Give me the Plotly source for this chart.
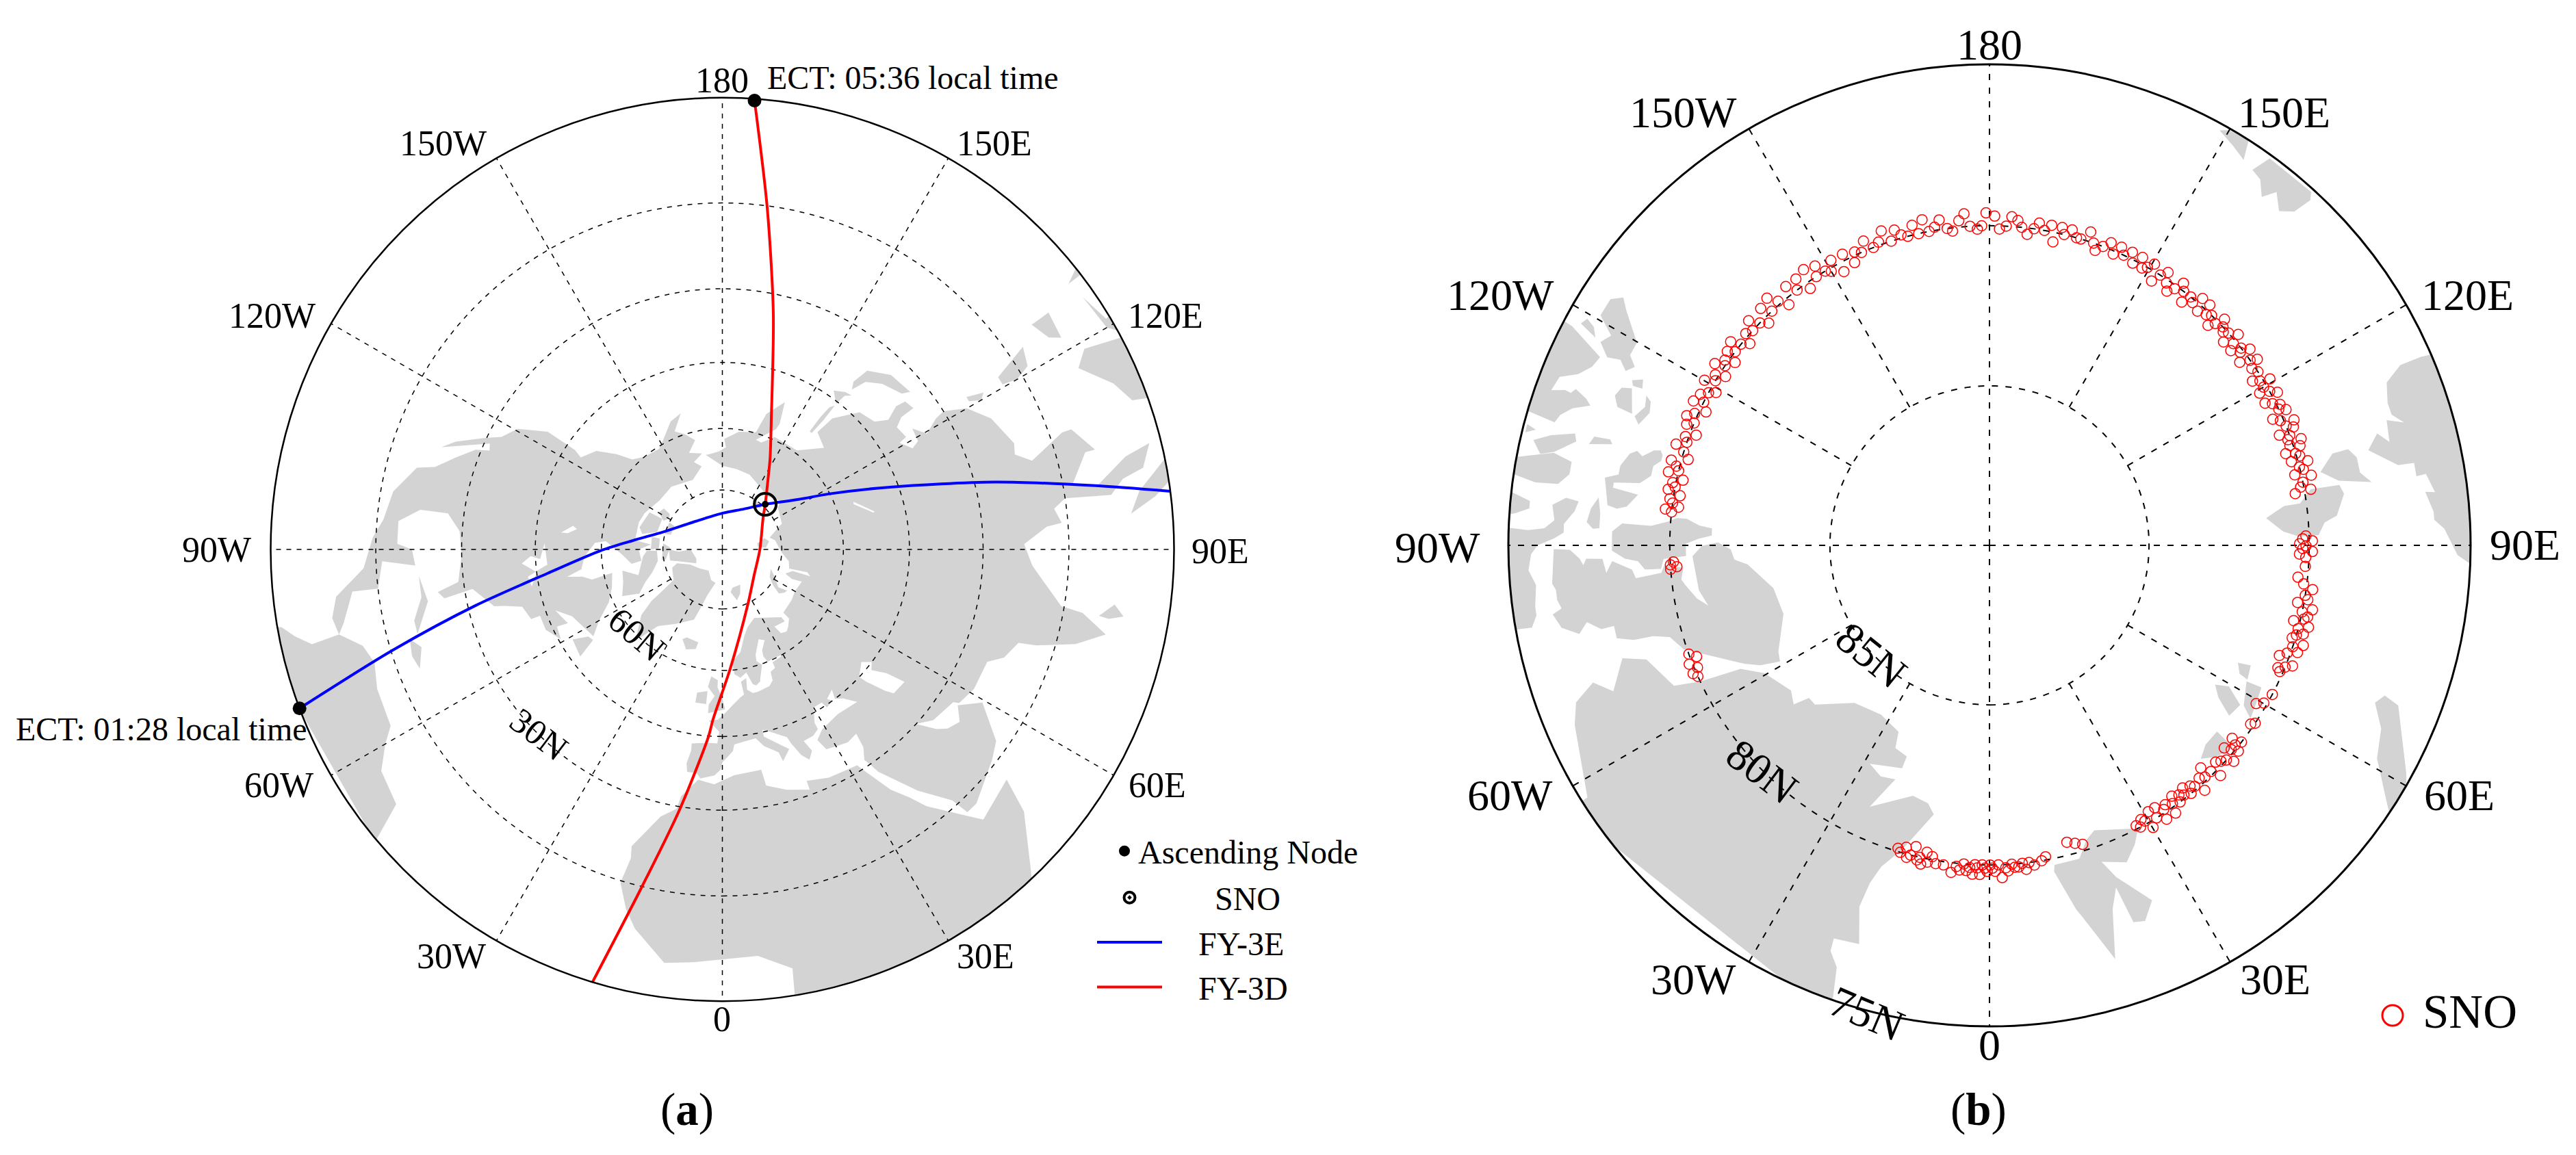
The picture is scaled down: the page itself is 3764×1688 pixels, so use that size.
"""Polar maps of the FY-3E / FY-3D ground tracks and their SNO points."""

import numpy as np
import plotly.graph_objects as go

WIDTH = 3764
HEIGHT = 1688
SERIF = "Liberation Serif"
LAND = "#d3d3d3"

# --- panel (a): tracks, lon/lat in degrees
FY3D_LON = [175.9, 172.5, 167.8, 159.5, 152.4, 147.1, 136.5, 127.7, 90.0, 51.5, 25.1, 3.8, -3.1, -4.3, -9.4, -13.5, -16.7]
FY3D_LAT = [0.2, 15.4, 33.8, 55.6, 64.3, 68.9, 74.3, 77.0, 80.5, 79.7, 74.8, 60.4, 48.8, 44.7, 29.2, 14.6, 0.0]
FY3E_LON = [-69.4, -73.0, -77.2, -82.2, -89.7, -95.7, -106.9, -133.3, 179.5, 151.9, 136.5, 123.2, 117.4, 110.4, 103.9, 99.8, 97.4]
FY3E_LAT = [0.0, 15.3, 31.5, 47.3, 60.2, 67.5, 74.6, 79.9, 80.8, 78.4, 74.3, 67.1, 60.0, 46.8, 26.3, 10.5, 0.0]
NODE_LON = [175.9, -69.4]
NODE_LAT = [0.2, 0.0]
SNO_LON_A = [136.5]
SNO_LAT_A = [74.3]

EURASIA = [(-9, 37), (-9.5, 38.7), (-8.8, 41.5), (-9, 43), (-4, 43.5), (-1.5, 43.5), (-1, 46), (-4.5, 48.4),
           (-1.5, 48.7), (1.5, 50.5), (4, 52), (7, 53.5), (8.5, 54), (8, 57), (10.5, 57.7), (10, 55), (12, 54),
           (14, 54), (19, 54.5), (21, 55.5), (21.5, 57.5), (24, 58), (24, 59.4), (28, 59.7), (30, 60), (25, 60.2),
           (22, 60), (21, 61.5), (21.5, 63), (25, 65), (22, 65.8), (17.5, 62.5), (17, 61), (19, 59.8), (16.5, 57),
           (16, 56.2), (14, 55.5), (12.7, 56), (11, 59), (8, 58), (5.5, 59), (5, 62), (10, 64), (14, 67.5),
           (18, 69.5), (25, 71), (31, 70), (41, 67.5), (41, 66.2), (34, 66.7), (35, 64.5), (38, 64), (40.5, 64.7),
           (44, 66), (44, 68), (54, 68.5), (60, 69), (68, 68.5), (67, 71), (69, 73), (73, 71.5), (73, 67), (75, 68),
           (74, 72.5), (80, 73), (87, 75), (100, 76.5), (104, 77.7), (113, 74), (113, 73.7), (127, 72.5), (130, 71),
           (140, 72.5), (150, 71.5), (160, 70), (170, 69.5), (180, 69), (190, 66), (188, 66), (182, 65.5), (178, 64.5),
           (179, 62.5), (172, 60.5), (164, 59.8), (163, 57.5), (162, 55), (157, 51), (155.5, 56), (156, 57.5),
           (163, 61.5), (160, 61.7), (155, 59.3), (143, 59.3), (135, 54.7), (141, 53), (140, 48.5), (135, 43.5),
           (130, 42.5), (128, 40), (129.5, 37), (129, 35), (126.5, 34.5), (126.5, 37.5), (125, 39.5), (121.5, 39),
           (121, 40.8), (118, 39), (119, 37.3), (122.5, 37), (119.5, 35), (121.5, 32), (122, 30), (120, 26), (116, 23),
           (110, 21), (108, 21.5), (106, 19), (109, 13), (109, 11.5), (105, 9), (105, 10.5), (100.5, 13.5), (99.5, 10),
           (103, 5), (104, 1.5), (101, 3), (100, 6), (98, 8), (98.5, 15), (97, 17), (94.5, 16), (94, 18.5), (91, 22.5),
           (87, 21), (80.5, 15.5), (80, 12), (77.5, 8), (75, 12), (73, 18), (72.5, 21), (69, 22.5), (67, 25), (61, 25),
           (57, 26), (56.5, 27), (51, 28), (48, 30), (50, 26.5), (51.5, 25), (54, 24), (56.5, 26), (59.5, 22.5),
           (55, 17), (52, 15.7), (45, 13), (43, 13), (42.5, 16), (39, 21), (35, 28), (34.5, 30), (34, 31.3),
           (35.5, 33.5), (36, 36.5), (33, 36), (30.5, 36.5), (27.5, 37), (26.5, 39.5), (29, 41), (35, 42), (41.5, 41.5),
           (39, 44), (37, 45), (38, 47), (35, 46), (36, 45), (33.5, 44.5), (33, 46), (30, 46), (28, 43), (28, 41.5),
           (26, 40.7), (23, 40.5), (24, 38), (22.5, 36.5), (21, 38), (19.5, 41), (19, 42.5), (14, 45), (12.5, 45.5),
           (12.5, 44), (16, 41.8), (18.5, 40), (16, 38), (15.5, 40), (12, 42), (10, 44), (7, 43.7), (3.5, 43.2),
           (3, 41.8), (0, 39.5), (-0.5, 38), (-2, 36.8), (-5.5, 36), (-6.5, 37)]
AFRICA = [(-17, 14.7), (-16.5, 19), (-17, 21), (-13, 27.5), (-10, 29.5), (-9.5, 32), (-6, 35.7), (-2, 35), (3, 36.8),
          (10, 37.3), (10.5, 34), (15, 32.3), (20, 31), (20, 32.8), (25, 31.7), (32, 31.2), (32.5, 30), (35, 24),
          (37, 21), (38.5, 18), (43, 12), (44, 10.5), (51, 12), (49, 7), (44, 1), (41, -3), (9, -3), (9.5, 3.5),
          (5, 5.8), (-4, 5), (-8, 4.5), (-13, 8.5), (-15, 11)]
N_AMERICA = [(-77.5, 8), (-80, 7.5), (-83, 8.5), (-87, 13), (-92, 14.5), (-95, 16), (-100, 17), (-105, 20), (-106, 23),
             (-109, 26), (-112, 29), (-113, 31.5), (-114.5, 31), (-110, 23), (-112, 25), (-115, 29.5), (-117, 32.5),
             (-120.5, 34.5), (-124, 40), (-124, 47), (-123, 49), (-128, 51), (-132, 55), (-135, 58.5), (-140, 60),
             (-148, 60.5), (-152, 59), (-158, 56), (-163, 55), (-158, 58.5), (-162, 60), (-166, 62), (-161, 64.5),
             (-168, 65.5), (-162, 67), (-166, 68.5), (-157, 71), (-141, 69.7), (-128, 70), (-115, 68.5), (-108, 68),
             (-96, 68), (-94, 72), (-90, 69), (-82, 69.5), (-81, 67), (-87, 65), (-94, 61), (-93, 58.5), (-87, 56),
             (-82, 55), (-80, 51.5), (-79, 55), (-77, 57), (-78, 62), (-71, 61), (-65, 59), (-60, 55), (-56, 52),
             (-66, 50), (-70, 47), (-64.5, 48.5), (-65, 46), (-61, 45.5), (-65.5, 43.5), (-70, 43.5), (-70, 41.5),
             (-74, 40.5), (-75.5, 37), (-76, 35), (-81, 31.5), (-80, 26), (-81.5, 25), (-83, 29), (-89, 30), (-94, 29.5),
             (-97.5, 27), (-97.5, 22), (-95, 18.5), (-91, 18.5), (-90, 21), (-87, 21.5), (-88, 16), (-83.5, 15),
             (-83.5, 11), (-79, 9)]
S_AMERICA = [(-77.5, 8), (-77, 4), (-78.5, 2), (-80, 0.5), (-80.5, -3), (-40, -3), (-50, 0), (-52, 5), (-57, 6),
             (-60, 8.5), (-62, 10.5), (-68, 11), (-72, 12), (-75, 11)]
GREENLAND = [(-45, 60), (-51, 64), (-54, 68), (-55, 71), (-58, 75.5), (-70, 76.5), (-73, 78), (-65, 81), (-50, 82.5),
             (-33, 83.6), (-20, 81.7), (-11.5, 81.4), (-18, 78), (-20, 75), (-22, 71), (-32, 68), (-40, 65), (-43, 60)]
BAFFIN = [(-80, 73.5), (-72, 71.5), (-67, 69), (-62, 66.5), (-65, 62.5), (-72, 64), (-78, 64.5), (-73, 68), (-85, 70),
          (-89, 71), (-89, 73.5)]
VICTORIA = [(-117, 69.5), (-105, 68.5), (-101, 69.5), (-105, 73), (-117, 73)]
BANKS = [(-125, 72), (-120, 71.5), (-116, 73.5), (-120, 74.5), (-124, 74)]
ELLESMERE = [(-90, 76.5), (-78, 76.5), (-75, 78.5), (-62, 82.5), (-70, 83), (-90, 82), (-87, 79)]
DEVON = [(-96, 75), (-80, 74.5), (-80, 75.5), (-92, 76.8)]
MELVILLE = [(-117, 75), (-105, 75), (-106, 76.5), (-116, 76.5)]
SOMERSET = [(-100, 72), (-90, 72), (-91, 74), (-100, 74)]
NEWFOUNDLAND = [(-59, 47.7), (-53, 47), (-55, 51.5), (-57, 51)]
ICELAND = [(-24, 65.5), (-20, 63.5), (-15, 64.3), (-14.5, 66), (-22, 66.3)]
BRITAIN = [(-5, 50), (1, 51), (0, 53.5), (-2, 56), (-2, 57.7), (-5, 58.5), (-6, 56), (-3, 54), (-5, 52)]
IRELAND = [(-10, 52), (-6, 52), (-6, 55), (-10, 54.3)]
SVALBARD_A = [(11, 79), (16, 76.6), (22, 78), (27, 80), (15, 80)]
NOVAYA_A = [(52, 72), (55, 71), (57.5, 70.7), (56, 73), (62, 75), (68, 76.8), (60, 76.2), (55, 74.5)]
SEVERNAYA_A = [(92, 79), (100, 78), (105, 79), (100, 81), (95, 81)]
NEWSIB_A = [(137, 75.5), (145, 75), (150, 75), (145, 76), (138, 76)]
SAKHALIN = [(142, 46), (143, 47), (143.5, 50), (143.5, 54), (142.5, 54), (142, 50), (142, 47)]
HONSHU = [(130, 33), (136, 33.5), (141, 36), (142, 39.5), (141, 41), (139.5, 38), (136, 36), (131, 34.5)]
HOKKAIDO = [(140, 42), (142, 42.3), (145, 43.5), (142, 45.5), (141.5, 43)]
TAIWAN = [(120, 23), (121, 22), (122, 25), (121, 25)]
LUZON = [(120, 16), (121, 13.5), (124, 12.5), (122, 18.5), (120.5, 18.5)]
MINDANAO = [(122, 7), (126, 6.5), (126, 9.5), (123, 8.5)]
BORNEO = [(109, -3), (110, 2), (113, 3.5), (117, 7), (119, 5), (118, 0), (117, -3)]
SUMATRA = [(95, 5.5), (98, 4), (104, -3), (101, -3), (97, 2)]
SULAWESI = [(120, 1), (125, 1.5), (121, 0.5), (122, -3), (120, -3), (119, 0)]
HALMAHERA = [(127.5, 2), (128.5, 0), (127.5, -1)]
SRI_LANKA = [(80, 9.5), (82, 7.5), (80.5, 6), (79.8, 8)]
CUBA = [(-85, 22), (-80, 23), (-74.5, 20), (-77, 20), (-81, 22)]
HISPANIOLA = [(-74, 18.5), (-72, 20), (-68.5, 18.5), (-71, 18)]
LAND_A = [EURASIA, AFRICA, N_AMERICA, S_AMERICA, GREENLAND, BAFFIN, VICTORIA, BANKS, ELLESMERE, DEVON, MELVILLE,
          SOMERSET, NEWFOUNDLAND, ICELAND, BRITAIN, IRELAND, SVALBARD_A, NOVAYA_A, SEVERNAYA_A, NEWSIB_A, SAKHALIN,
          HONSHU, HOKKAIDO, TAIWAN, LUZON, MINDANAO, BORNEO, SUMATRA, SULAWESI, HALMAHERA, SRI_LANKA, CUBA, HISPANIOLA]

CASPIAN = [(47, 45), (51, 46.8), (53, 45), (51, 44), (53, 41), (54, 37), (50, 37.3), (49, 39), (47.5, 43)]
GREAT_LAKES = [(-92, 47), (-85, 47.5), (-84, 46), (-82, 43), (-79, 43.5), (-83, 45), (-86, 42), (-88, 44), (-87, 46)]
WINNIPEG = [(-99, 53), (-96, 50.5), (-96, 52), (-98, 54)]
BAIKAL = [(104, 51.7), (110, 55.7), (109, 55.8), (103.7, 52)]
WATER_A = [CASPIAN, GREAT_LAKES, WINNIPEG, BAIKAL]

# --- panel (b): land, lat > 75
GREENLAND_B = [(-57.9, 75.2), (-66.6, 75.9), (-69.2, 76.2), (-70.9, 76.9), (-68.8, 77.4), (-72.9, 78.0), (-71.6, 78.7),
               (-66.0, 79.2), (-64.8, 80.0), (-63.6, 81.3), (-60.4, 81.9), (-53.8, 82.3), (-50.9, 82.1), (-49.8, 82.6),
               (-47.6, 82.6), (-40.6, 83.5), (-32.6, 83.7), (-26.0, 83.5), (-24.9, 83.0), (-21.4, 82.9), (-21.4, 82.5),
               (-28.7, 82.2), (-25.2, 82.0), (-21.9, 82.1), (-23.5, 81.5), (-24.6, 81.0), (-17.0, 81.8), (-13.4, 81.7),
               (-11.7, 81.4), (-16.0, 80.1), (-18.6, 79.4), (-19.5, 78.8), (-19.8, 78.0), (-18.1, 76.9), (-21.6, 76.8),
               (-21.4, 76.4), (-19.9, 76.0), (-19.1, 75.1), (-19.0, 74.5), (-57.9, 74.5)]
ISLAND_B1 = [(-123, 75.9), (-124.1, 76.2), (-122.9, 76.5), (-119.9, 77.3), (-117.9, 77.3), (-116.7, 77.6), (-115.6, 77.4),
             (-116.7, 77.1), (-116.2, 76.7), (-117.6, 76.3), (-119, 76.5), (-120.6, 75.9)]
ISLAND_B2 = [(-119.4, 75.6), (-118.9, 75.9), (-117.8, 76.1), (-118.5, 75.5)]
ISLAND_B3 = [(-117.7, 75.3), (-115.8, 76.5), (-114.2, 76.4), (-112.6, 76.1), (-111.4, 75.6), (-109.5, 75.5), (-110.1, 75.9),
             (-110, 76.1), (-110.7, 76.2), (-110, 76.6), (-109.3, 76.8), (-108.2, 76.3), (-106.9, 76), (-105.8, 75.9),
             (-106.2, 75.1), (-106.2, 74.5), (-118, 74.5)]
ISLAND_B4 = [(-103.7, 75.1), (-104.7, 75.1), (-104.3, 75.4)]
ISLAND_B5 = [(-103, 75.4), (-104.1, 75.9), (-105.1, 76.6), (-104.1, 76.7), (-102.1, 76.1), (-101.5, 75.7)]
ISLAND_B6 = [(-100.6, 75), (-102, 76.1), (-101.3, 76.7), (-99.6, 76.7), (-98.1, 76.4), (-97.9, 75.7), (-98.5, 75)]
ISLAND_B7 = [(-105.4, 77.2), (-105.6, 77.7), (-105, 77.8), (-104.2, 77.1)]
ISLAND_B8 = [(-114.8, 77.7), (-115.6, 78), (-114.3, 78.1), (-114.1, 77.8)]
ISLAND_B9 = [(-113.2, 77.5), (-113.7, 77.8), (-110.2, 78.1), (-110.4, 77.6), (-111.8, 77.4)]
ISLAND_B10 = [(-113.6, 78.3), (-113, 78.5), (-111.3, 78.6), (-109, 78.4), (-110, 78.2), (-111.9, 78.4)]
ISLAND_B11 = [(-104.3, 78.4), (-105, 78.6), (-104.4, 78.8), (-105.8, 79.1), (-106.1, 79.3), (-105.4, 79.4), (-104.4, 79.4),
              (-103.3, 79.2), (-101.6, 79.2), (-100.1, 78.9), (-99.5, 78.1), (-98.7, 78.1), (-98.2, 78.9), (-96.1, 78.6),
              (-95.6, 78.3), (-96, 78), (-100, 77.8), (-100.8, 78.2), (-102.2, 78.2)]
ISLAND_B12 = [(-96.4, 75), (-95.5, 75.6), (-94.6, 75.6), (-93.9, 75.2), (-93.7, 75), (-94, 74.5), (-96, 74.5)]
ISLAND_B13 = [(-92.1, 75), (-91.9, 75.6), (-92.2, 76.1), (-93.3, 76.4), (-95.3, 76.3), (-96.4, 76.7), (-96.1, 77.1),
              (-94.7, 77), (-92.9, 76.7), (-91.7, 76.7), (-90.9, 76.4), (-90, 75.9), (-88.9, 75.7), (-86.9, 75.6),
              (-85, 75.8), (-82.3, 75.7), (-81.2, 75.7), (-79.8, 75.5), (-79.9, 75.1), (-80, 74.5), (-92, 74.5)]
ISLAND_B14 = [(-97, 77.7), (-94.7, 77.8), (-92.5, 77.8), (-92.4, 77.6), (-93.3, 77.4), (-95.3, 77.5)]
ISLAND_B15 = [(-92.1, 78.2), (-93.4, 78.5), (-93.3, 79.4), (-94.2, 79.9), (-95, 80.2), (-95, 80.5), (-93.9, 80.9),
              (-93.5, 81.3), (-92, 81.3), (-91.3, 80.9), (-90.3, 80.5), (-88, 80.5), (-87.6, 79.8), (-85.9, 79.7),
              (-86, 79.2), (-87.4, 79), (-87.9, 78.6), (-89.2, 78.2)]
ISLAND_B16 = [(-89.5, 76.4), (-89.4, 76.9), (-88.1, 77.2), (-87.2, 77.3), (-88.1, 77.4), (-88, 77.9), (-85.9, 78),
              (-87.6, 78.2), (-86.1, 78.8), (-84.7, 78.9), (-85.2, 79.7), (-86.4, 79.8), (-85.8, 80.4), (-83.7, 80.3),
              (-82.6, 80.4), (-79.7, 80.7), (-77.9, 81), (-81.2, 80.8), (-87.9, 80.7), (-89.9, 81), (-90.6, 81.5),
              (-89.1, 81.9), (-86.8, 82), (-85.5, 82.4), (-78.8, 83.1), (-71.6, 83.2), (-63.3, 82.6), (-61, 82.5),
              (-62.4, 81.9), (-64.1, 81.5), (-68.9, 80.5), (-71.2, 79.9), (-74, 79.6), (-74.9, 79.1), (-75.1, 78.5),
              (-76, 78), (-77.9, 78), (-77.8, 77.6), (-79.2, 77.2), (-77.8, 76.9), (-79.1, 76.4), (-81, 76.2),
              (-81.6, 76.5), (-82.8, 76.4), (-84.1, 76.4), (-85, 76.3)]
NEWSIB_B1 = [(151, 75.2), (150, 75.05), (147.4, 75), (146.6, 75.6), (148.7, 75.4)]
NEWSIB_B2 = [(145, 75.7), (144.1, 75.1), (137.7, 75.1), (137.1, 75.3), (137.6, 75.9), (139.1, 76.2), (140.9, 75.8),
             (142, 76.2), (143.5, 75.8)]
TAYMYR_B = [(113.6, 75.3), (113.7, 76), (112.3, 76.6), (109.7, 76.8), (108, 76.8), (106.5, 76.5), (107.5, 77), (104.5, 77.1),
            (106.1, 77.4), (104.1, 77.8), (101.1, 77), (101, 76.5), (99.2, 76.5), (99.3, 76.2), (96.8, 76), (97, 76.3),
            (94.3, 76.1), (93.3, 76.1), (92.1, 75.8), (88.8, 75.4), (87.8, 75), (88, 74.5), (113, 74.5)]
SEVERNAYA_B1 = [(102.5, 79.4), (105, 78.9), (105, 78.4), (103.5, 78.2), (101.1, 78.2), (99.4, 77.9), (100.5, 78.9)]
SEVERNAYA_B2 = [(95.6, 81.3), (97.6, 80.7), (97.7, 80.2), (99.9, 79.8), (99.8, 78.9), (98.3, 78.8), (94.9, 79.1),
                (93.9, 79.5), (91.8, 79.7), (91.6, 80.3), (92.7, 80.8)]
FRANZ_B1 = [(64.7, 81.4), (65.3, 81), (62.5, 80.9), (62.8, 81.2)]
FRANZ_B2 = [(58.3, 81.7), (59.5, 81.3), (57.5, 80.7), (54.6, 80.8), (56.4, 81.4)]
FRANZ_B3 = [(62.1, 80.9), (62.4, 80.4), (59.3, 80.3), (56.4, 80.2), (57.8, 80.6)]
FRANZ_B4 = [(50.7, 80.8), (50.3, 80.1), (47, 80.3), (44.7, 80.6), (47.3, 80.8)]
NOVAYA_B = [(69.2, 76.8), (68.6, 76.3), (61.4, 75.2), (60.1, 75), (56.2, 75), (57.7, 75.4), (61.2, 76.2), (64.9, 76.5), (67.8, 77)]
SVALBARD_B = [(20.2, 80.5), (27.7, 80), (25.9, 79.6), (23.4, 79.2), (19.5, 79.5), (20.9, 78.9), (24.6, 77.8), (22.5, 77.3),
              (20.9, 77.4), (20.3, 78.6), (18.7, 78), (16.9, 76.5), (14.1, 78), (13.4, 78.3), (11.2, 79.6), (11.5, 79.8),
              (16, 79.8), (18.2, 80.3)]
LAND_B = [GREENLAND_B, ISLAND_B1, ISLAND_B2, ISLAND_B3, ISLAND_B4, ISLAND_B5, ISLAND_B6, ISLAND_B7, ISLAND_B8, ISLAND_B9,
          ISLAND_B10, ISLAND_B11, ISLAND_B12, ISLAND_B13, ISLAND_B14, ISLAND_B15, ISLAND_B16, NEWSIB_B1, NEWSIB_B2,
          TAYMYR_B, SEVERNAYA_B1, SEVERNAYA_B2, FRANZ_B1, FRANZ_B2, FRANZ_B3, FRANZ_B4, NOVAYA_B, SVALBARD_B]

SNO_POINTS = [(-16.8, 80.1), (-16.2, 80.0), (-15.4, 80.2), (-14.9, 79.9), (-14.3, 80.0), (-13.7, 80.3), (-13.0, 79.9),
              (-12.6, 80.0), (-12.2, 79.8), (-11.5, 80.2), (-11.1, 79.9), (-10.4, 80.1), (-9.6, 79.9), (-8.2, 79.9),
              (-6.7, 79.7), (-5.9, 79.9), (-5.3, 79.8), (-4.6, 80.0), (-4.1, 79.8), (-3.5, 79.9), (-3.0, 79.7), (-2.6, 80.0),
              (-2.2, 79.9), (-1.7, 79.7), (-1.3, 80.0), (-0.8, 79.9), (-0.4, 79.8), (0.1, 80.0), (0.5, 79.9), (1.0, 79.8),
              (1.6, 80.0), (2.2, 79.6), (2.9, 79.9), (3.3, 79.8), (4.0, 80.0), (4.5, 79.9), (5.2, 79.9), (5.9, 80.0),
              (6.5, 79.8), (7.1, 80.0), (8.0, 79.9), (9.4, 80.0), (10.2, 80.1), (14.6, 80.4), (16.0, 80.3), (17.3, 80.2),
              (27.6, 80.1), (28.2, 80.0), (28.9, 80.2), (29.4, 80.1), (30.1, 79.8), (30.8, 80.3), (31.5, 80.0), (32.2, 80.3),
              (32.9, 79.8), (33.4, 80.1), (34.1, 80.2), (34.8, 79.8), (35.3, 80.1), (36.0, 80.3), (36.6, 80.0), (37.2, 80.2),
              (37.9, 80.1), (38.5, 80.3), (39.1, 80.0), (39.8, 80.2), (40.4, 80.1), (41.3, 79.8), (42.0, 80.2), (42.9, 80.1),
              (43.5, 80.4), (44.4, 80.1), (45.1, 79.8), (46.2, 80.2), (47.0, 80.1), (47.8, 80.0), (48.5, 79.8), (49.2, 80.3),
              (49.8, 80.1), (50.4, 79.9), (50.9, 80.1), (51.5, 80.3), (52.0, 80.0), (55.6, 80.1), (56.2, 80.0), (59.3, 80.3),
              (60.1, 80.1), (62.2, 80.0), (66.5, 80.1), (67.0, 80.2), (67.6, 80.0), (68.3, 79.8), (69.2, 80.3), (70.1, 80.1),
              (70.8, 79.8), (71.5, 80.0), (72.3, 79.7), (73.0, 80.1), (73.7, 80.0), (74.2, 79.8), (74.9, 80.0), (75.6, 79.7),
              (76.1, 80.2), (76.8, 79.9), (77.3, 79.8), (78.0, 80.0), (78.7, 79.7), (79.5, 80.2), (80.3, 79.9), (81.0, 80.0),
              (82.2, 79.8), (83.0, 80.1), (84.1, 80.3), (86.2, 80.1), (87.8, 80.1), (88.4, 80.3), (88.9, 79.9), (89.4, 80.2),
              (89.9, 80.1), (90.3, 80.3), (90.8, 79.9), (91.2, 80.2), (91.7, 80.1), (99.6, 80.3), (99.9, 79.8), (100.6, 80.1),
              (101.4, 80.0), (102.3, 79.7), (103.0, 80.2), (103.6, 79.9), (104.2, 80.0), (104.9, 79.7), (105.5, 80.2),
              (106.1, 79.9), (106.7, 80.0), (107.2, 80.3), (107.8, 79.8), (108.4, 80.1), (108.9, 79.7), (109.5, 80.1),
              (110.1, 80.0), (110.8, 80.3), (111.3, 79.8), (111.9, 80.0), (112.4, 79.7), (113.2, 80.1), (114.0, 80.3),
              (114.6, 79.8), (115.2, 80.0), (115.9, 79.9), (116.6, 80.1), (117.3, 80.3), (118.0, 79.8), (118.8, 80.0),
              (119.4, 80.3), (120.0, 80.1), (120.7, 79.8), (121.3, 80.1), (122.0, 80.3), (122.9, 80.0), (124.0, 80.1),
              (124.8, 79.8), (125.4, 80.0), (126.2, 80.3), (127.0, 79.8), (127.6, 80.1), (128.1, 80.0), (128.9, 80.3),
              (129.6, 80.1), (130.3, 79.8), (131.0, 80.3), (131.6, 80.0), (132.4, 80.1), (133.1, 80.0), (133.9, 79.8),
              (134.5, 80.1), (135.2, 80.3), (136.0, 80.0), (136.8, 80.1), (137.5, 79.8), (138.4, 80.2), (139.2, 79.8),
              (140.1, 80.1), (141.0, 80.0), (141.7, 80.3), (142.6, 80.0), (143.5, 79.8), (144.2, 80.1), (145.1, 80.3),
              (146.0, 80.1), (146.8, 79.8), (147.7, 80.0), (148.5, 80.3), (149.6, 79.8), (150.4, 80.0), (151.2, 80.1),
              (152.0, 79.8), (153.1, 80.1), (154.0, 79.8), (155.2, 80.0), (156.1, 79.8), (157.0, 80.1), (158.1, 79.8),
              (159.2, 80.0), (160.3, 80.2), (161.0, 80.0), (162.1, 79.7), (163.4, 80.0), (164.2, 80.0), (165.3, 79.8),
              (166.5, 80.0), (167.1, 79.8), (168.2, 80.3), (169.0, 79.8), (170.1, 80.0), (171.2, 79.8), (172.0, 80.0),
              (173.1, 80.2), (174.2, 80.0), (175.0, 79.8), (176.1, 79.7), (177.0, 80.0), (178.2, 80.1), (179.1, 79.7),
              (-179.4, 79.6), (-178.6, 80.0), (-177.8, 80.1), (-176.5, 80.0), (-175.6, 79.6), (-174.6, 79.8), (-173.3, 80.1),
              (-172.4, 80.0), (-171.2, 79.7), (-170.2, 79.9), (-169.1, 80.0), (-168.3, 79.6), (-167.2, 80.0), (-166.4, 79.7),
              (-165.2, 80.0), (-164.1, 79.9), (-163.2, 79.7), (-162.1, 80.0), (-161.0, 79.6), (-159.9, 79.9), (-158.7, 80.0),
              (-157.5, 79.7), (-156.4, 80.0), (-155.3, 79.9), (-154.5, 80.2), (-153.2, 79.8), (-152.0, 80.3), (-150.9, 79.8),
              (-150.0, 80.1), (-149.1, 80.0), (-148.0, 79.7), (-147.2, 80.0), (-146.0, 79.6), (-145.1, 80.2), (-144.0, 79.7),
              (-143.0, 80.0), (-141.8, 79.7), (-140.2, 80.2), (-139.1, 79.9), (-138.0, 79.6), (-137.1, 80.0), (-136.0, 79.7),
              (-135.2, 80.2), (-134.1, 80.0), (-133.0, 79.7), (-132.2, 80.0), (-131.0, 79.9), (-130.1, 80.2), (-129.0, 80.0),
              (-128.2, 79.7), (-127.3, 80.0), (-126.5, 79.8), (-125.7, 80.2), (-125.0, 79.9), (-124.2, 80.0), (-123.5, 79.7),
              (-122.6, 80.2), (-121.9, 79.9), (-121.0, 80.0), (-120.1, 79.7), (-119.2, 80.2), (-118.5, 80.0), (-117.6, 79.8),
              (-116.6, 80.0), (-116.0, 79.7), (-115.2, 80.2), (-114.1, 79.9), (-113.2, 79.7), (-112.5, 80.0), (-111.8, 79.8),
              (-110.6, 80.2), (-109.7, 79.9), (-108.8, 80.0), (-107.9, 79.7), (-107.0, 80.0), (-105.9, 80.2), (-105.0, 79.7),
              (-104.2, 79.9), (-103.5, 80.0), (-102.9, 79.7), (-102.0, 80.2), (-101.2, 79.9), (-100.5, 80.0), (-99.9, 79.8),
              (-99.1, 80.2), (-98.3, 79.9), (-97.6, 80.0), (-97.0, 80.2), (-96.4, 79.8), (-96.0, 80.0), (-87.0, 80.1),
              (-86.5, 80.0), (-86.1, 80.2), (-85.7, 80.0), (-70.1, 80.0), (-69.2, 80.2), (-68.4, 79.9), (-67.3, 80.1),
              (-66.6, 79.9), (-65.8, 80.0)]

# graticule
RINGS_A = [75, 60, 45, 30, 15]
RINGS_B = [85, 80]
MERIDIANS = [0, 30, 60, 90, 120, 150, 180, 210, 240, 270, 300, 330]
CARDINALS = [0, 90, 180, 270]

# label tables: text, centre x, centre y in pixels of the page
LON_LABELS_A = [("180", 1055, 117), ("150W", 647, 210), ("150E", 1453, 210), ("120W", 397, 461), ("120E", 1703, 461),
                ("90W", 316, 803), ("90E", 1783, 805), ("60W", 407, 1147), ("60E", 1691, 1147), ("30W", 659, 1397),
                ("30E", 1440, 1397), ("0", 1055, 1489)]
LON_LABELS_B = [("180", 2907, 66), ("150W", 2459, 165), ("150E", 3337, 165), ("120W", 2192, 432), ("120E", 3605, 432),
                ("90W", 2100, 800), ("90E", 3689, 797), ("60W", 2206, 1162), ("60E", 3593, 1162), ("30W", 2474, 1431),
                ("30E", 3324, 1431), ("0", 2907, 1527)]
LAT_LABELS_A = [("60N", 931, 927, 40), ("30N", 788, 1073, 37)]
LAT_LABELS_B = [("85N", 2734, 958, 39), ("80N", 2575, 1127, 37), ("75N", 2728, 1481, 23)]


def to_r(lat, edge):
    """Polar stereographic radius, 1 at the map edge latitude."""
    lat = np.asarray(lat, dtype=float)
    return np.tan(np.radians(90 - lat) / 2) / np.tan(np.radians(90 - edge) / 2)


def add_polygons(fig, polygons, edge, subplot, color):
    for polygon in polygons:
        lons, lats = zip(*polygon)
        fig.add_scatterpolar(r=to_r(lats, edge), theta=lons, subplot=subplot, mode="lines", fill="toself",
                             fillcolor=color, line={"width": 0}, cliponaxis=True, showlegend=False,
                             hoverinfo="skip")


def add_graticule(fig, rings, edge, latmax, subplot, width, dash):
    line = {"color": "black", "width": width, "dash": dash}
    ring_lons = np.arange(0, 361, 2)
    for lat in rings:
        fig.add_scatterpolar(r=to_r([lat] * len(ring_lons), edge), theta=ring_lons, subplot=subplot, mode="lines",
                             line=line, showlegend=False, hoverinfo="skip")
    for lon in MERIDIANS:
        top = 90 if lon in CARDINALS else latmax
        fig.add_scatterpolar(r=to_r([top, edge], edge), theta=[lon, lon], subplot=subplot, mode="lines",
                             line=line, showlegend=False, hoverinfo="skip")


def polar_layout(cx, cy, radius, linewidth):
    return {
        "domain": {"x": [(cx - radius) / WIDTH, (cx + radius) / WIDTH],
                   "y": [1 - (cy + radius) / HEIGHT, 1 - (cy - radius) / HEIGHT]},
        "bgcolor": "white",
        "radialaxis": {"visible": False, "range": [0, 1]},
        "angularaxis": {"direction": "counterclockwise", "rotation": -90, "showgrid": False,
                        "showticklabels": False, "ticks": "", "showline": True,
                        "linecolor": "black", "linewidth": linewidth},
    }


def text_note(text, x, y, size, angle=0):
    return {"text": text, "x": x / WIDTH, "y": 1 - y / HEIGHT, "xref": "paper", "yref": "paper", "showarrow": False,
            "xanchor": "center", "yanchor": "middle", "textangle": angle,
            "font": {"family": SERIF, "size": size, "color": "black"}}


fig = go.Figure()

# panel (a)
add_polygons(fig, LAND_A, 0, "polar", LAND)
add_polygons(fig, WATER_A, 0, "polar", "white")
add_graticule(fig, RINGS_A, 0, 75, "polar", 1.5, "7px,8px")
fig.add_scatterpolar(r=to_r(FY3D_LAT, 0), theta=FY3D_LON, subplot="polar", mode="lines", name="\u00a0\u00a0\u00a0\u00a0FY-3D",
                     line={"color": "#ff0000", "width": 4, "shape": "spline", "smoothing": 0.8}, legend="legend2")
fig.add_scatterpolar(r=to_r(FY3E_LAT, 0), theta=FY3E_LON, subplot="polar", mode="lines", name="\u00a0\u00a0\u00a0\u00a0FY-3E",
                     line={"color": "#0000ff", "width": 4, "shape": "spline", "smoothing": 0.8}, legend="legend2")
fig.add_scatterpolar(r=to_r(SNO_LAT_A, 0), theta=SNO_LON_A, subplot="polar", mode="markers",
                     name="\u00a0\u00a0\u00a0\u00a0\u00a0\u00a0SNO", legend="legend2",
                     marker={"symbol": "circle-dot", "size": 32, "color": "rgba(0,0,0,0)",
                             "line": {"color": "black", "width": 4}})
fig.add_scatterpolar(r=to_r(SNO_LAT_A, 0), theta=SNO_LON_A, subplot="polar", mode="markers", showlegend=False,
                     marker={"color": "black", "size": 10}, hoverinfo="skip")
fig.add_scatterpolar(r=to_r(NODE_LAT, 0), theta=NODE_LON, subplot="polar", mode="markers", name="Ascending Node",
                     marker={"color": "black", "size": 20}, legend="legend")

# panel (b)
add_polygons(fig, LAND_B, 75, "polar2", LAND)
add_graticule(fig, RINGS_B, 75, 85, "polar2", 2, "9px,11px")
sno_lons, sno_lats = zip(*SNO_POINTS)
fig.add_scatterpolar(r=to_r(sno_lats, 75), theta=sno_lons, subplot="polar2", mode="markers", showlegend=False,
                     marker={"symbol": "circle-open", "size": 15, "color": "#ff0000", "line": {"width": 1.5}})
# legend entry only: plotly caps legend markers at 16 px, the larger ring is a shape below
fig.add_scatterpolar(r=[None], theta=[None], subplot="polar2", mode="markers", name="SNO", legend="legend3",
                     marker={"symbol": "circle-open", "size": 15, "color": "rgba(0,0,0,0)"})

notes = [text_note(text, x, y, 52) for text, x, y in LON_LABELS_A]
notes += [text_note(text, x, y, 64) for text, x, y in LON_LABELS_B]
notes += [text_note(text, x, y, 52, angle) for text, x, y, angle in LAT_LABELS_A]
notes += [text_note(text, x, y, 64, angle) for text, x, y, angle in LAT_LABELS_B]
notes.append(text_note("ECT: 05:36 local time", 1334, 113, 48))
notes.append(text_note("ECT: 01:28 local time", 236, 1065, 48))
notes.append(text_note("(<b>a</b>)", 1004, 1621, 67))
notes.append(text_note("(<b>b</b>)", 2891, 1621, 67))

legend_base = {"bgcolor": "rgba(0,0,0,0)", "xanchor": "left", "yanchor": "top"}
fig.update_layout(
    width=WIDTH, height=HEIGHT, margin={"l": 0, "r": 0, "t": 0, "b": 0},
    paper_bgcolor="white", showlegend=True,
    polar=polar_layout(1055.5, 803, 660, 2.5),
    polar2=polar_layout(2907, 797, 703, 3),
    annotations=notes,
    shapes=[{"type": "circle", "xref": "paper", "yref": "paper", "line": {"color": "#ff0000", "width": 3},
             "x0": (3496 - 15) / WIDTH, "x1": (3496 + 15) / WIDTH,
             "y0": 1 - (1484 + 15) / HEIGHT, "y1": 1 - (1484 - 15) / HEIGHT}],
    legend={**legend_base, "x": 1623 / WIDTH, "y": 1 - 1206 / HEIGHT, "itemwidth": 30,
            "font": {"family": SERIF, "size": 48, "color": "black"}},
    legend2={**legend_base, "x": 1598 / WIDTH, "y": 1 - 1274 / HEIGHT, "itemwidth": 95, "traceorder": "reversed",
             "font": {"family": SERIF, "size": 48, "color": "black"}},
    legend3={**legend_base, "x": 3476 / WIDTH, "y": 1 - 1424 / HEIGHT, "itemwidth": 54,
             "font": {"family": SERIF, "size": 69, "color": "black"}},
)

fig.write_html("out.html", config={"displayModeBar": False},
               post_script="document.body.style.margin='0';")
